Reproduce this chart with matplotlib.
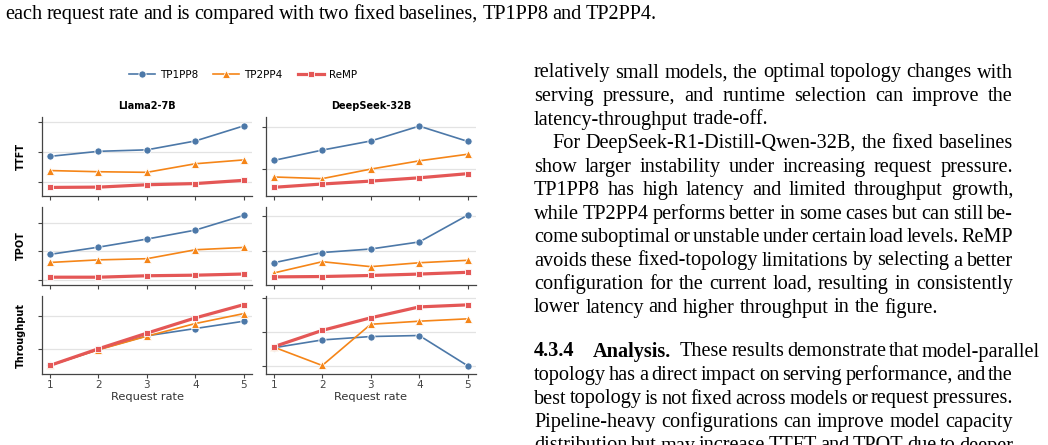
import matplotlib
matplotlib.use("Agg")
import matplotlib.pyplot as plt
from matplotlib.lines import Line2D

W, H = 1048, 445

################################## Data ########################################
rates = [1, 2, 3, 4, 5]
series = ["TP1PP8", "TP2PP4", "ReMP"]

# values are in arbitrary units (the figure has no y tick labels)
llama_ttft = {"TP1PP8": [1.85, 2.02, 2.07, 2.37, 2.88],
              "TP2PP4": [1.37, 1.33, 1.31, 1.60, 1.73],
              "ReMP":   [0.80, 0.81, 0.89, 0.93, 1.04]}
deep_ttft = {"TP1PP8": [1.20, 1.45, 1.67, 2.03, 1.66],
             "TP2PP4": [0.80, 0.76, 0.99, 1.19, 1.35],
             "ReMP":   [0.55, 0.63, 0.70, 0.78, 0.88]}
llama_tpot = {"TP1PP8": [1.90, 2.15, 2.43, 2.74, 3.25],
              "TP2PP4": [1.62, 1.71, 1.75, 2.06, 2.14],
              "ReMP":   [1.11, 1.11, 1.16, 1.18, 1.22]}
deep_tpot = {"TP1PP8": [0.68, 0.97, 1.07, 1.27, 2.03],
             "TP2PP4": [0.39, 0.71, 0.57, 0.68, 0.75],
             "ReMP":   [0.28, 0.29, 0.32, 0.36, 0.41]}
llama_thr = {"TP1PP8": [0.52, 1.00, 1.41, 1.63, 1.85],
             "TP2PP4": [0.52, 0.99, 1.40, 1.78, 2.08],
             "ReMP":   [0.52, 1.02, 1.49, 1.95, 2.35]}
deep_thr = {"TP1PP8": [1.54, 1.77, 1.87, 1.90, 1.01],
            "TP2PP4": [1.56, 1.02, 2.23, 2.32, 2.39],
            "ReMP":   [1.57, 2.05, 2.42, 2.74, 2.80]}

models = ["Llama2-7B", "DeepSeek-32B"]
metrics = ["TTFT", "TPOT", "Throughput"]
panels = [[llama_ttft, deep_ttft], [llama_tpot, deep_tpot], [llama_thr, deep_thr]]
# unlabeled y ticks and y ranges per panel
yticks = [[[1, 2, 3], [1, 2]], [[1, 2, 3], [1, 2]], [[1, 2], [1, 2, 3]]]
ylims = [[(0.51, 3.18), (0.34, 2.25)], [(0.84, 3.54), (0.05, 2.26)],
         [(0.26, 2.61), (0.77, 3.06)]]

caption = "each request rate and is compared with two fixed baselines, TP1PP8 and TP2PP4."
body = [
    ("relatively small models, the optimal topology changes with", True, 0),
    ("serving pressure, and runtime selection can improve the", True, 0),
    ("latency-throughput trade-off.", False, 0),
    ("For DeepSeek-R1-Distill-Qwen-32B, the fixed baselines", True, 1),
    ("show larger instability under increasing request pressure.", True, 0),
    ("TP1PP8 has high latency and limited throughput growth,", True, 0),
    ("while TP2PP4 performs better in some cases but can still be-", True, 0),
    ("come suboptimal or unstable under certain load levels. ReMP", True, 0),
    ("avoids these fixed-topology limitations by selecting a better", True, 0),
    ("configuration for the current load, resulting in consistently", True, 0),
    ("lower latency and higher throughput in the figure.", False, 0),
]
head_num = "4.3.4"
head_title = "Analysis."
head_rest = "These results demonstrate that model-parallel"
body2 = [
    "topology has a direct impact on serving performance, and the",
    "best topology is not fixed across models or request pressures.",
    "Pipeline-heavy configurations can improve model capacity",
    "distribution but may increase TTFT and TPOT due to deeper",
]

############################### Styles #########################################
styles = {"TP1PP8": dict(color="#4c78a8", marker="o", lw=1.2, ms=5.2),
          "TP2PP4": dict(color="#f58518", marker="^", lw=1.2, ms=5.8),
          "ReMP":   dict(color="#e45756", marker="s", lw=2.3, ms=4.7)}

plt.rcParams["font.family"] = "DejaVu Sans"
fig = plt.figure(figsize=(W / 100, H / 100), dpi=100)
renderer = fig.canvas.get_renderer()

cols_px = [(42.3, 252), (266, 476)]
rows_px = [(117, 196), (207, 285), (296, 374)]

for r in range(3):
    for c in range(2):
        x0, x1 = cols_px[c]
        t0, t1 = rows_px[r]
        ax = fig.add_axes([x0 / W, 1 - t1 / H, (x1 - x0) / W, (t1 - t0) / H])
        data = panels[r][c]
        for s in series:
            st = styles[s]
            ax.plot(rates, data[s], color=st["color"], marker=st["marker"],
                    lw=st["lw"], ms=st["ms"], mec="white", mew=0.6, zorder=3)
        ax.set_xlim(0.84, 5.17)
        ax.set_ylim(*ylims[r][c])
        ax.set_yticks(yticks[r][c])
        ax.set_yticklabels([])
        ax.set_xticks(rates)
        ax.grid(axis="y", color="#e3e3e3", lw=0.9, zorder=0)
        for sp in ["top", "right"]:
            ax.spines[sp].set_visible(False)
        for sp in ["left", "bottom"]:
            ax.spines[sp].set_color("#444444")
            ax.spines[sp].set_linewidth(0.9)
        ax.tick_params(length=2.6, width=0.8, color="#444444",
                       labelsize=7.5, labelcolor="#444444", pad=1.5)
        if r < 2:
            ax.set_xticklabels([])
        else:
            ax.set_xlabel("Request rate", fontsize=8.2, color="#333333", labelpad=2)
        if r == 0:
            ax.set_title(models[c], fontsize=7, fontweight="bold", pad=5.5)
        if c == 0:
            ax.set_ylabel(metrics[r], fontsize=7, fontweight="bold", labelpad=8)

handles = [Line2D([], [], color=styles[s]["color"], marker=styles[s]["marker"],
                  lw=styles[s]["lw"], ms=styles[s]["ms"], mec="white", mew=0.6)
           for s in series]
fig.legend(handles, series, loc="center", bbox_to_anchor=(243 / W, 1 - 75 / H),
           ncol=3, frameon=False, fontsize=7.5, handlelength=2.5,
           handletextpad=0.5, columnspacing=1.45)

############################### Text column ####################################
serif = "Liberation Serif"


def put_words(words, x, y, size, right=None, weight="normal"):
    objs = [fig.text(0, 0, w, fontsize=size, family=serif, weight=weight,
                     va="baseline", ha="left") for w in words]
    widths = [o.get_window_extent(renderer).width for o in objs]
    gap = 0.25 * size * 100 / 72
    if right is not None and len(words) > 1:
        gap = (right - x - sum(widths)) / (len(words) - 1)
    cx = x
    for o, w in zip(objs, widths):
        o.set_position((cx / W, 1 - y / H))
        cx += w + gap
    return cx


# pick size so a ragged paragraph line matches its width in the page
probe = fig.text(0, 0, body[-1][0], fontsize=10, family=serif)
size = 10 * 403 / probe.get_window_extent(renderer).width
probe.remove()

put_words(caption.split(), 5, 19, size, 657)

left, right, step = 534, 1013, 23.5
y = 77.5
for line, just, indent in body:
    put_words(line.split(), left + 18 * indent, y, size, right if just else None)
    y += step

y = 356.5
put_words([head_num], left, y, size, weight="bold")
put_words([head_title], 593, y, size, weight="bold")
put_words(head_rest.split(), 680, y, size, 1040)
y += step
for line in body2:
    put_words(line.split(), left, y, size, right)
    y += step

fig.savefig("out.png", dpi=100)
